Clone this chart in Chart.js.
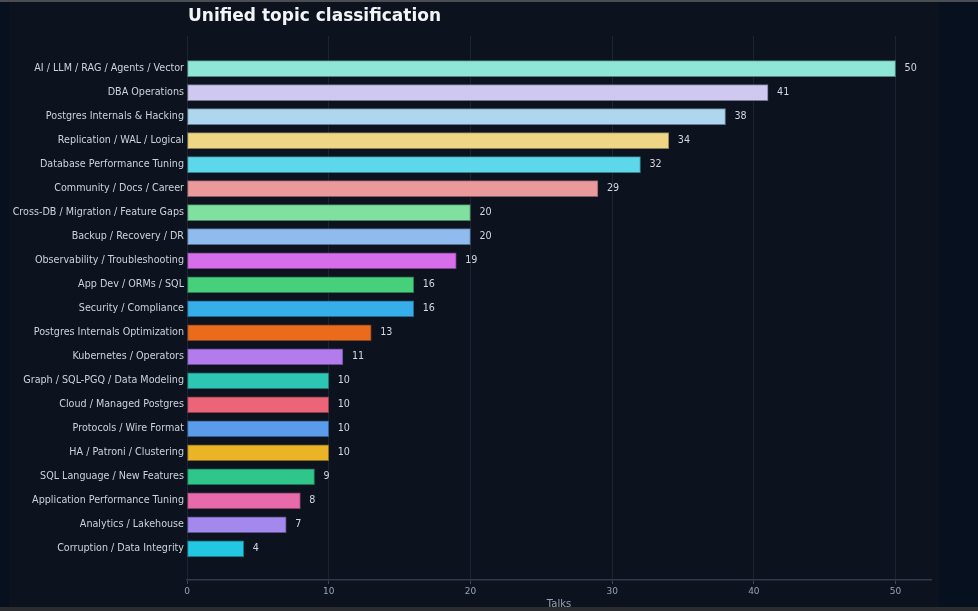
<!DOCTYPE html>
<html>
<head>
<meta charset="utf-8">
<title>Unified topic classification</title>
<script src="https://cdn.jsdelivr.net/npm/chart.js@4.4.1/dist/chart.umd.min.js"></script>
<style>
  html, body {
    margin: 0;
    padding: 0;
    width: 978px;
    height: 611px;
    overflow: hidden;
    background: #07101f;
  }
  .top-line {
    position: absolute;
    left: 0; top: 0;
    width: 978px; height: 2px;
    background: #4a4d52;
  }
  .bottom-strip {
    position: absolute;
    left: 0; top: 607px;
    width: 978px; height: 4px;
    background: #2b2c2e;
  }
  .panel {
    position: absolute;
    left: 9px; top: 2px;
    width: 930px; height: 605px;
    background: #0c131f;
  }
  #topicChart {
    display: block;
  }
</style>
</head>
<body>
<div class="top-line"></div>
<div class="panel"><canvas id="topicChart" width="930" height="605"></canvas></div>
<div class="bottom-strip"></div>
<script>
const topicLabels = [
  'AI / LLM / RAG / Agents / Vector',
  'DBA Operations',
  'Postgres Internals & Hacking',
  'Replication / WAL / Logical',
  'Database Performance Tuning',
  'Community / Docs / Career',
  'Cross-DB / Migration / Feature Gaps',
  'Backup / Recovery / DR',
  'Observability / Troubleshooting',
  'App Dev / ORMs / SQL',
  'Security / Compliance',
  'Postgres Internals Optimization',
  'Kubernetes / Operators',
  'Graph / SQL-PGQ / Data Modeling',
  'Cloud / Managed Postgres',
  'Protocols / Wire Format',
  'HA / Patroni / Clustering',
  'SQL Language / New Features',
  'Application Performance Tuning',
  'Analytics / Lakehouse',
  'Corruption / Data Integrity'
];

const talkCounts = [50, 41, 38, 34, 32, 29, 20, 20, 19, 16, 16, 13, 11, 10, 10, 10, 10, 9, 8, 7, 4];

const barColors = [
  '#8ee6d6', '#cfc8ef', '#aed6ef', '#eed685', '#5cd8ea', '#eb9a9b', '#80e0a0',
  '#8fbbef', '#d76ee9', '#47d07a', '#36aeea', '#ea6b1b', '#b27cef', '#2cc6b2',
  '#ec6478', '#5a9bec', '#ebb326', '#2fc68a', '#e96aaa', '#a388ee', '#22c8e2'
];

const xTicks = [0, 10, 20, 30, 40, 50];

const PANEL_BG = [12, 19, 31];

// border = fill mixed halfway toward the panel background
function edgeColor(hex) {
  const n = parseInt(hex.slice(1), 16);
  const rgb = [(n >> 16) & 255, (n >> 8) & 255, n & 255];
  const mixed = rgb.map((c, i) => Math.round(c * 0.55 + PANEL_BG[i] * 0.45));
  return `rgb(${mixed.join(',')})`;
}

const titlePlugin = {
  id: 'leftTitle',
  afterDraw(chart) {
    const { ctx, chartArea } = chart;
    ctx.save();
    ctx.font = 'bold 17px "DejaVu Sans", sans-serif';
    ctx.fillStyle = '#f2f4f7';
    ctx.textAlign = 'left';
    ctx.textBaseline = 'middle';
    ctx.fillText('Unified topic classification', chartArea.left + 1, 14.5);
    ctx.restore();
  }
};

const valueLabelPlugin = {
  id: 'valueLabels',
  afterDatasetsDraw(chart) {
    const { ctx } = chart;
    const meta = chart.getDatasetMeta(0);
    ctx.save();
    ctx.font = '9.6px "DejaVu Sans", sans-serif';
    ctx.fillStyle = '#d3d8df';
    ctx.textAlign = 'left';
    ctx.textBaseline = 'middle';
    meta.data.forEach((bar, i) => {
      ctx.fillText(String(talkCounts[i]), bar.x + 9, bar.y);
    });
    ctx.restore();
  }
};

const ctx = document.getElementById('topicChart').getContext('2d');

new Chart(ctx, {
  type: 'bar',
  data: {
    datasets: [{
      label: 'Talks',
      data: talkCounts.map((v, i) => ({ x: v, y: i })),
      backgroundColor: barColors,
      borderColor: barColors.map(edgeColor),
      borderWidth: 1,
      borderSkipped: false,
      barThickness: 16
    }]
  },
  options: {
    indexAxis: 'y',
    responsive: false,
    animation: false,
    devicePixelRatio: 1,
    layout: {
      padding: { top: 34, right: 8, left: 0, bottom: 0 }
    },
    scales: {
      x: {
        type: 'linear',
        min: 0,
        max: 52.5,
        afterFit(scale) {
          scale.height = 27;
        },
        afterBuildTicks(scale) {
          scale.ticks = xTicks.map(v => ({ value: v }));
        },
        ticks: {
          color: '#98a2b0',
          font: { family: '"DejaVu Sans", sans-serif', size: 9 },
          padding: 2,
          maxRotation: 0
        },
        grid: {
          color: '#1b2431',
          tickColor: '#3a4657',
          tickLength: 4,
          lineWidth: 1
        },
        border: {
          color: '#2f3b4d',
          width: 1.5
        },
        title: {
          display: true,
          text: 'Talks',
          color: '#98a2b0',
          font: { family: '"DejaVu Sans", sans-serif', size: 10 },
          padding: { top: 0, bottom: -3 }
        }
      },
      y: {
        type: 'linear',
        reverse: true,
        offset: false,
        min: -1.36,
        max: 21.3,
        afterFit(scale) {
          scale.width = 178;
        },
        afterBuildTicks(scale) {
          scale.ticks = topicLabels.map((_, i) => ({ value: i }));
        },
        ticks: {
          color: '#cdd3db',
          font: { family: '"DejaVu Sans", sans-serif', size: 9.6 },
          padding: 3,
          autoSkip: false,
          callback: (value) => topicLabels[value] ?? ''
        },
        grid: {
          display: false,
          offset: false,
          drawTicks: false
        },
        border: {
          display: false
        }
      }
    },
    plugins: {
      legend: { display: false },
      title: { display: false },
      tooltip: { enabled: false }
    }
  },
  plugins: [titlePlugin, valueLabelPlugin]
});
</script>
</body>
</html>
